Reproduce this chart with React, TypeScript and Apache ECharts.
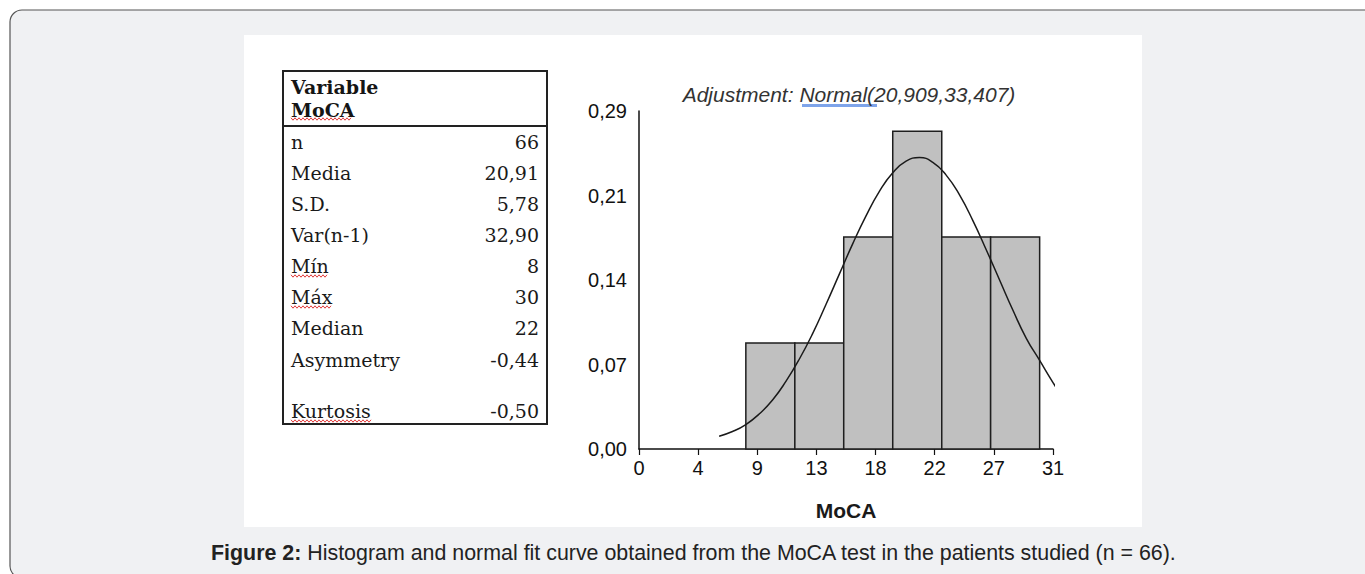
import React, { useEffect, useRef } from "react";
import * as echarts from "echarts";

// Histogram bins (MoCA score) and relative frequencies
const binEdges = [8, 11.67, 15.33, 19, 22.67, 26.33, 30];
const binFreq = [0.0909, 0.0909, 0.1818, 0.2727, 0.1818, 0.1818];

// Normal fit curve
const curveX = [6, 7, 8, 9, 10, 11, 12, 13, 14, 15, 16, 17, 18, 19, 20, 21, 22, 23, 24, 25, 26, 27, 28, 29, 30, 31, 31.5];
const curveY = [0.011, 0.015, 0.021, 0.030, 0.042, 0.058, 0.077, 0.099, 0.124, 0.150, 0.176, 0.200, 0.221, 0.237, 0.247, 0.250, 0.246, 0.235, 0.218, 0.196, 0.171, 0.145, 0.119, 0.095, 0.076, 0.057, 0.048];

const xTickLabels = ["0", "4", "9", "13", "18", "22", "27", "31"];
const yTickLabels = ["0,00", "0,07", "0,14", "0,21", "0,29"];

const statLabels = ["n", "Media", "S.D.", "Var(n-1)", "Mín", "Máx", "Median", "Asymmetry", "Kurtosis"];
const statValues = ["66", "20,91", "5,78", "32,90", "8", "30", "22", "-0,44", "-0,50"];
const misspelled = ["Mín", "Máx", "Kurtosis"];

const titleText = "Adjustment: Normal(20,909,33,407)";
const captionBold = "Figure 2:";
const captionText = " Histogram and normal fit curve obtained from the MoCA test in the patients studied (n = 66).";

const X_MAX = 31;
const X_STEP = 31 / 7;
const Y_MAX = 0.29;
const Y_STEP = 0.0725;

function squiggle(x0: number, x1: number, y: number) {
  const pts: number[][] = [];
  let up = true;
  for (let x = x0; x <= x1; x += 2) {
    pts.push([x, y + (up ? -1.2 : 1.2)]);
    up = !up;
  }
  return {
    type: "polyline",
    z: 5,
    shape: { points: pts },
    style: { stroke: "#e03a3a", lineWidth: 1, fill: null },
  };
}

export default function App() {
  const ref = useRef<HTMLDivElement>(null);

  useEffect(() => {
    if (!ref.current) return;
    const chart = echarts.init(ref.current, undefined, { renderer: "svg" });

    const serif = "DejaVu Serif";
    const sans = "Liberation Sans";
    const tableLeft = 283;
    const tableTop = 71;
    const tableW = 264;
    const tableH = 353;
    const rowYs = [142, 173, 204, 235, 266, 297, 328, 360, 411];

    const graphics: any[] = [
      {
        type: "rect",
        z: -100,
        shape: { x: 10, y: 10, width: 1372, height: 568, r: 12 },
        style: { fill: "#f0f1f3", stroke: "#555", lineWidth: 1.2 },
      },
      {
        type: "rect",
        z: -99,
        shape: { x: 244, y: 35, width: 898, height: 492 },
        style: { fill: "#ffffff" },
      },
      {
        type: "rect",
        z: 5,
        shape: { x: tableLeft, y: tableTop, width: tableW, height: tableH },
        style: { fill: null, stroke: "#222", lineWidth: 2 },
      },
      {
        type: "line",
        z: 5,
        shape: { x1: tableLeft, y1: 126, x2: tableLeft + tableW, y2: 126 },
        style: { stroke: "#222", lineWidth: 2 },
      },
      {
        type: "text",
        z: 5,
        x: 291,
        y: 87,
        style: { text: "Variable", font: `bold 19px "${serif}"`, fill: "#151515", textVerticalAlign: "middle" },
      },
      {
        type: "text",
        z: 5,
        x: 291,
        y: 110,
        style: { text: "MoCA", font: `bold 19px "${serif}"`, fill: "#151515", textVerticalAlign: "middle" },
      },
      squiggle(291, 351, 119),
      {
        type: "text",
        z: 5,
        x: 849,
        y: 94,
        style: {
          text: titleText,
          font: `italic 21px "${sans}"`,
          fill: "#333",
          textAlign: "center",
          textVerticalAlign: "middle",
        },
      },
      {
        type: "rect",
        z: 4,
        shape: { x: 802, y: 104, width: 75, height: 3 },
        style: { fill: "#7ea4ea" },
      },
      {
        type: "text",
        z: 5,
        x: 211,
        y: 553,
        style: {
          text: `{b|${captionBold}}{r|${captionText}}`,
          rich: {
            b: { font: `bold 21.4px "${sans}"`, fill: "#222" },
            r: { font: `21.4px "${sans}"`, fill: "#222" },
          },
          textVerticalAlign: "middle",
        },
      },
    ];

    statLabels.forEach((lab, i) => {
      graphics.push({
        type: "text",
        z: 5,
        x: 291,
        y: rowYs[i],
        style: { text: lab, font: `19px "${serif}"`, fill: "#1a1a1a", textVerticalAlign: "middle" },
      });
      graphics.push({
        type: "text",
        z: 5,
        x: 539,
        y: rowYs[i],
        style: {
          text: statValues[i],
          font: `19px "${serif}"`,
          fill: "#1a1a1a",
          textAlign: "right",
          textVerticalAlign: "middle",
        },
      });
    });
    const squiggleWidths: Record<string, number> = { "Mín": 37, "Máx": 40, Kurtosis: 80 };
    misspelled.forEach((lab) => {
      const i = statLabels.indexOf(lab);
      graphics.push(squiggle(291, 291 + squiggleWidths[lab], rowYs[i] + 10));
    });

    const option: any = {
      animation: false,
      backgroundColor: "transparent",
      grid: { left: 639, top: 111, width: 414, height: 338, containLabel: false },
      xAxis: {
        type: "value",
        min: 0,
        max: X_MAX,
        interval: X_STEP,
        name: "MoCA",
        nameLocation: "middle",
        nameGap: 51,
        nameTextStyle: { fontFamily: sans, fontWeight: "bold", fontSize: 21, color: "#1a1a1a" },
        axisLine: { show: true, lineStyle: { color: "#111", width: 1.5 } },
        axisTick: { show: true, length: 6, inside: false, lineStyle: { color: "#111", width: 1.2 } },
        splitLine: { show: false },
        axisLabel: {
          fontFamily: sans,
          fontSize: 20,
          color: "#111",
          margin: 9,
          formatter: (v: number) => xTickLabels[Math.round(v / X_STEP)] ?? "",
        },
      },
      yAxis: {
        type: "value",
        min: 0,
        max: Y_MAX,
        interval: Y_STEP,
        axisLine: { show: true, lineStyle: { color: "#111", width: 1.5 } },
        axisTick: { show: false },
        splitLine: { show: false },
        axisLabel: {
          fontFamily: sans,
          fontSize: 20,
          color: "#111",
          margin: 12,
          formatter: (v: number) => yTickLabels[Math.round(v / Y_STEP)] ?? "",
        },
      },
      graphic: graphics,
      series: [
        {
          type: "custom",
          z: 2,
          data: binFreq.map((f, i) => [binEdges[i], binEdges[i + 1], f]),
          encode: { x: [0, 1], y: 2 },
          renderItem: (params: any, api: any) => {
            const tl = api.coord([api.value(0), api.value(2)]);
            const br = api.coord([api.value(1), 0]);
            return {
              type: "rect",
              shape: { x: tl[0], y: tl[1], width: br[0] - tl[0], height: br[1] - tl[1] },
              style: { fill: "#c0c0c0", stroke: "#1e1e1e", lineWidth: 1.5 },
            };
          },
        },
        {
          type: "line",
          z: 3,
          data: curveX.map((x, i) => [x, curveY[i]]),
          smooth: true,
          showSymbol: false,
          symbol: "none",
          clip: false,
          lineStyle: { color: "#1a1a1a", width: 1.5 },
        },
      ],
    };

    chart.setOption(option);
    return () => chart.dispose();
  }, []);

  return (
    <div
      ref={ref}
      style={{ position: "absolute", left: 0, top: 0, width: 1365, height: 574, background: "#ffffff" }}
    />
  );
}
